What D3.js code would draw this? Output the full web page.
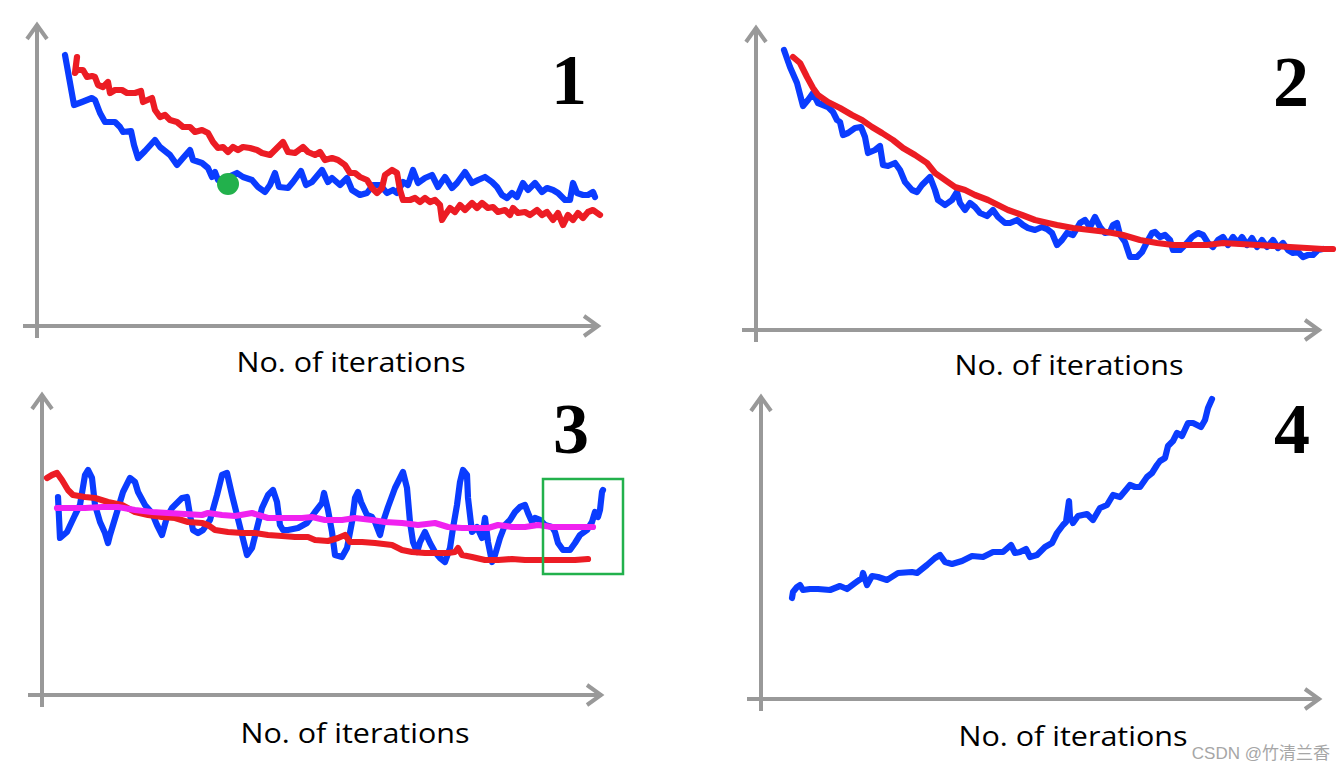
<!DOCTYPE html>
<html><head><meta charset="utf-8">
<script src="https://cdn.jsdelivr.net/npm/d3@7"></script>
<style>html,body{margin:0;padding:0;background:#fff;} svg{display:block;}</style>
</head><body>
<svg id="chart" width="1344" height="771"></svg>
<script>
// ---------- DATA (x = iterations, y = cost, arbitrary units) ----------
const axisTitle = "No. of iterations";
const panelNumbers = ["1", "2", "3", "4"];
const watermark = "CSDN @竹清兰香";

const p1Blue = [[28,271],[37,221],[45,224],[55,228],[58,226],[63,213],[68,204],[78,204],[83,199],[86,194],[94,195],[97,181],[101,168],[108,175],[118,186],[123,179],[133,171],[140,161],[146,168],[153,176],[156,166],[165,163],[171,158],[175,149],[178,154],[181,146],[189,148],[200,153],[206,149],[215,146],[221,139],[228,134],[233,141],[238,153],[242,139],[251,138],[256,144],[264,155],[269,141],[275,144],[285,156],[291,144],[295,148],[303,141],[310,148],[315,136],[323,131],[330,133],[336,141],[343,141],[350,133],[356,136],[360,133],[366,144],[371,141],[376,156],[381,143],[388,148],[395,151],[401,139],[408,149],[415,138],[420,143],[428,154],[435,143],[441,146],[448,149],[455,144],[460,139],[465,131],[470,128],[475,133],[480,129],[486,143],[491,136],[498,143],[505,134],[510,138],[516,136],[521,133],[528,126],[533,126],[536,143],[540,133],[546,131],[551,131],[556,134],[558,129]];
const p1Red = [[40,269],[38,253],[40,256],[46,256],[50,249],[55,250],[58,249],[61,241],[66,239],[71,244],[73,233],[78,236],[85,236],[90,233],[98,233],[104,235],[106,224],[115,228],[118,216],[123,209],[128,211],[133,206],[140,204],[146,199],[153,199],[158,194],[165,196],[171,193],[176,184],[181,178],[186,179],[191,174],[196,179],[201,176],[206,179],[213,178],[220,176],[225,173],[233,171],[240,178],[246,184],[251,174],[258,173],[266,179],[271,174],[278,171],[283,174],[288,166],[295,168],[301,166],[308,161],[313,153],[318,153],[323,149],[330,146],[335,138],[340,133],[345,138],[348,151],[355,156],[360,153],[363,136],[366,126],[373,126],[378,128],[383,124],[388,128],[393,124],[398,126],[403,121],[405,106],[408,111],[413,118],[418,114],[423,121],[428,116],[435,123],[440,118],[445,123],[451,118],[456,119],[461,114],[468,116],[473,111],[476,118],[481,113],[488,114],[493,111],[500,116],[505,111],[510,114],[516,106],[521,113],[526,101],[531,111],[536,106],[541,113],[546,108],[551,114],[556,116],[563,111]];
const p1Dot = [[191,142]];

const p2Blue = [[28,280],[34,263],[41,247],[47,224],[52,230],[57,237],[62,227],[67,225],[72,223],[77,218],[81,210],[84,208],[87,195],[92,197],[99,202],[105,203],[109,193],[112,177],[119,180],[124,184],[127,165],[132,164],[139,167],[144,160],[149,148],[156,140],[161,138],[166,145],[174,153],[179,140],[182,130],[189,125],[196,130],[201,138],[204,127],[209,120],[214,127],[219,123],[224,117],[231,114],[237,120],[242,113],[249,107],[254,107],[261,110],[267,105],[272,102],[279,100],[286,103],[291,101],[296,97],[301,85],[306,90],[311,97],[317,95],[324,107],[329,110],[334,103],[339,113],[344,103],[349,97],[354,98],[357,105],[361,107],[364,95],[369,88],[374,73],[381,73],[386,78],[391,88],[396,97],[399,98],[404,93],[409,95],[414,90],[417,80],[424,80],[431,87],[436,93],[442,97],[447,95],[452,87],[457,83],[462,90],[467,93],[472,85],[477,93],[482,87],[486,93],[491,85],[496,92],[501,83],[506,90],[511,83],[517,90],[522,82],[527,87],[532,80],[537,77],[542,78],[547,73],[552,75],[557,75],[562,80],[567,81]];
const p2Red = [[37,273],[44,267],[51,253],[57,242],[62,235],[72,228],[84,222],[96,215],[106,210],[116,203],[126,197],[137,190],[147,182],[159,175],[171,167],[179,157],[189,150],[199,143],[209,140],[219,135],[232,130],[242,125],[252,120],[266,115],[279,110],[292,107],[301,105],[317,102],[334,100],[351,98],[367,95],[384,90],[401,87],[417,85],[434,85],[451,85],[467,87],[484,86],[501,85],[517,84],[534,83],[551,82],[567,81],[577,81]];

const p3Blue = [[16,198],[18,157],[25,163],[33,180],[38,190],[43,220],[46,225],[50,217],[53,190],[58,173],[63,162],[66,152],[68,160],[75,183],[81,203],[88,217],[93,213],[96,203],[103,190],[110,182],[115,170],[120,160],[125,178],[130,187],[140,197],[145,198],[148,180],[151,165],[156,162],[161,165],[168,175],[175,200],[180,220],[185,222],[190,200],[195,180],[200,160],[205,140],[210,147],[215,167],[220,187],[226,200],[231,205],[235,193],[238,170],[241,165],[246,165],[256,167],[265,172],[273,183],[280,192],[282,202],[286,185],[290,163],[293,140],[300,138],[305,147],[310,173],[313,197],[316,203],[319,193],[325,180],[330,178],[333,173],[338,160],[341,173],[346,188],[353,207],[358,217],[361,223],[365,207],[368,173],[371,153],[375,143],[378,153],[383,163],[388,152],[393,143],[398,137],[403,133],[408,147],[411,167],[415,190],[418,213],[421,225],[425,220],[426,197],[430,163],[435,168],[440,157],[443,177],[446,153],[450,133],[453,140],[458,157],[463,170],[468,175],[473,183],[478,188],[483,190],[486,182],[490,173],[493,177],[498,175],[503,170],[510,168],[513,163],[516,152],[521,145],[528,145],[533,152],[538,160],[545,165],[550,173],[553,183],[556,178],[558,185],[560,203],[561,205]];
const p3Red = [[5,217],[10,220],[15,222],[20,215],[26,205],[31,200],[43,198],[53,197],[66,193],[80,190],[93,183],[106,180],[120,178],[133,177],[146,173],[160,172],[166,170],[173,165],[186,163],[200,162],[213,162],[226,160],[240,159],[253,158],[266,158],[273,155],[286,154],[296,157],[303,160],[308,153],[320,153],[333,152],[350,150],[360,145],[370,143],[383,142],[396,142],[406,142],[413,143],[416,147],[420,140],[430,138],[443,135],[456,135],[470,136],[483,135],[500,135],[516,135],[533,135],[546,136]];
const p3Magenta = [[15,187],[26,187],[43,187],[60,188],[76,188],[93,185],[110,183],[126,182],[143,181],[160,180],[166,182],[180,180],[193,179],[210,182],[226,177],[243,177],[260,177],[270,178],[283,175],[300,175],[313,177],[330,175],[343,173],[360,172],[376,170],[393,172],[406,168],[420,167],[433,167],[446,167],[456,170],[470,168],[483,168],[496,170],[510,168],[523,168],[536,168],[551,168]];
const p3Box = [[501,121],[581,216]]; // highlighted iteration/cost window

const p4Blue = [[31,101],[32,107],[36,112],[39,114],[42,109],[49,110],[57,110],[69,109],[79,113],[86,110],[94,116],[101,121],[102,126],[106,114],[111,123],[117,122],[126,119],[137,126],[151,127],[156,126],[166,134],[174,141],[179,144],[184,137],[191,135],[201,138],[211,143],[222,142],[232,147],[242,147],[250,154],[254,146],[259,147],[265,150],[269,142],[276,144],[284,152],[291,156],[296,166],[302,174],[305,177],[308,198],[309,182],[312,176],[317,183],[326,185],[332,179],[339,191],[346,194],[352,204],[359,202],[369,214],[374,212],[379,212],[386,222],[391,226],[396,234],[399,238],[404,241],[407,253],[412,258],[416,266],[421,263],[427,276],[432,276],[440,272],[444,279],[447,291],[451,300]];

// ---------- STYLE / LAYOUT ----------
const BLUE = "#0a3cff", RED = "#ec1c24", MAGENTA = "#f022f0", GREEN = "#22b14c", AXIS = "#999999";
const X_MAX = 560, Y_MAX = 300;

const panels = [
  { ox: 37,  oy: 326, xTip: 599,  yTip: 24,  labelX: 351,  labelY: 372, numX: 569,  numY: 104,
    series: [{d: p1Blue, c: BLUE}, {d: p1Red, c: RED}], dots: p1Dot },
  { ox: 756, oy: 330, xTip: 1320, yTip: 27,  labelX: 1069, labelY: 375, numX: 1291, numY: 106,
    series: [{d: p2Blue, c: BLUE}, {d: p2Red, c: RED}], dots: [] },
  { ox: 42,  oy: 695, xTip: 602,  yTip: 394, labelX: 355,  labelY: 743, numX: 571,  numY: 453,
    series: [{d: p3Blue, c: BLUE}, {d: p3Red, c: RED}, {d: p3Magenta, c: MAGENTA}], dots: [], box: p3Box },
  { ox: 761, oy: 699, xTip: 1320, yTip: 396, labelX: 1073, labelY: 746, numX: 1292, numY: 453,
    series: [{d: p4Blue, c: BLUE}], dots: [] }
];

const svg = d3.select("#chart");
svg.append("rect").attr("width", 1344).attr("height", 771).attr("fill", "#fff");

panels.forEach((p, i) => {
  const x = d3.scaleLinear().domain([0, X_MAX]).range([p.ox, p.ox + X_MAX]);
  const y = d3.scaleLinear().domain([0, Y_MAX]).range([p.oy, p.oy - Y_MAX]);
  const g = svg.append("g");

  // axes with open arrowheads
  const ax = g.append("g").attr("fill", "none").attr("stroke", AXIS).attr("stroke-width", 4);
  ax.append("line").attr("x1", p.ox).attr("y1", p.oy + 12).attr("x2", p.ox).attr("y2", p.yTip);
  ax.append("polyline").attr("stroke-linejoin", "miter")
    .attr("points", `${p.ox - 10},${p.yTip + 15} ${p.ox},${p.yTip + 1} ${p.ox + 10},${p.yTip + 15}`);
  ax.append("line").attr("x1", p.ox - 14).attr("y1", p.oy).attr("x2", p.xTip).attr("y2", p.oy);
  ax.append("polyline").attr("stroke-linejoin", "miter")
    .attr("points", `${p.xTip - 15},${p.oy - 10} ${p.xTip - 1},${p.oy} ${p.xTip - 15},${p.oy + 10}`);

  // axis title
  g.append("text").attr("x", p.labelX).attr("y", p.labelY).attr("text-anchor", "middle")
    .attr("font-family", "'Open Sans', 'Noto Sans', sans-serif").attr("font-size", 28)
    .attr("textLength", 229).attr("lengthAdjust", "spacingAndGlyphs")
    .attr("fill", "#000").text(axisTitle);

  // panel number
  g.append("text").attr("x", p.numX).attr("y", p.numY).attr("text-anchor", "middle")
    .attr("font-family", "'Liberation Serif', 'DejaVu Serif', serif").attr("font-weight", "bold")
    .attr("font-size", 72).attr("fill", "#000").text(panelNumbers[i]);

  // series
  const line = d3.line().x(d => x(d[0])).y(d => y(d[1])).curve(d3.curveLinear);
  p.series.forEach(s => {
    g.append("path").attr("d", line(s.d)).attr("fill", "none").attr("stroke", s.c)
      .attr("stroke-width", 6.2).attr("stroke-linejoin", "round").attr("stroke-linecap", "round");
  });

  p.dots.forEach(d => {
    g.append("circle").attr("cx", x(d[0])).attr("cy", y(d[1])).attr("r", 11).attr("fill", GREEN);
  });

  if (p.box) {
    const [a, b] = p.box;
    g.append("rect").attr("x", x(a[0])).attr("y", y(b[1]))
      .attr("width", x(b[0]) - x(a[0])).attr("height", y(a[1]) - y(b[1]))
      .attr("fill", "none").attr("stroke", GREEN).attr("stroke-width", 2.5);
  }
});

svg.append("text").attr("x", 1330).attr("y", 759).attr("text-anchor", "end")
  .attr("font-family", "'Liberation Sans', 'Noto Sans CJK SC', sans-serif").attr("font-size", 17)
  .attr("fill", "#a6a6a6").text(watermark);
</script>
</body></html>
